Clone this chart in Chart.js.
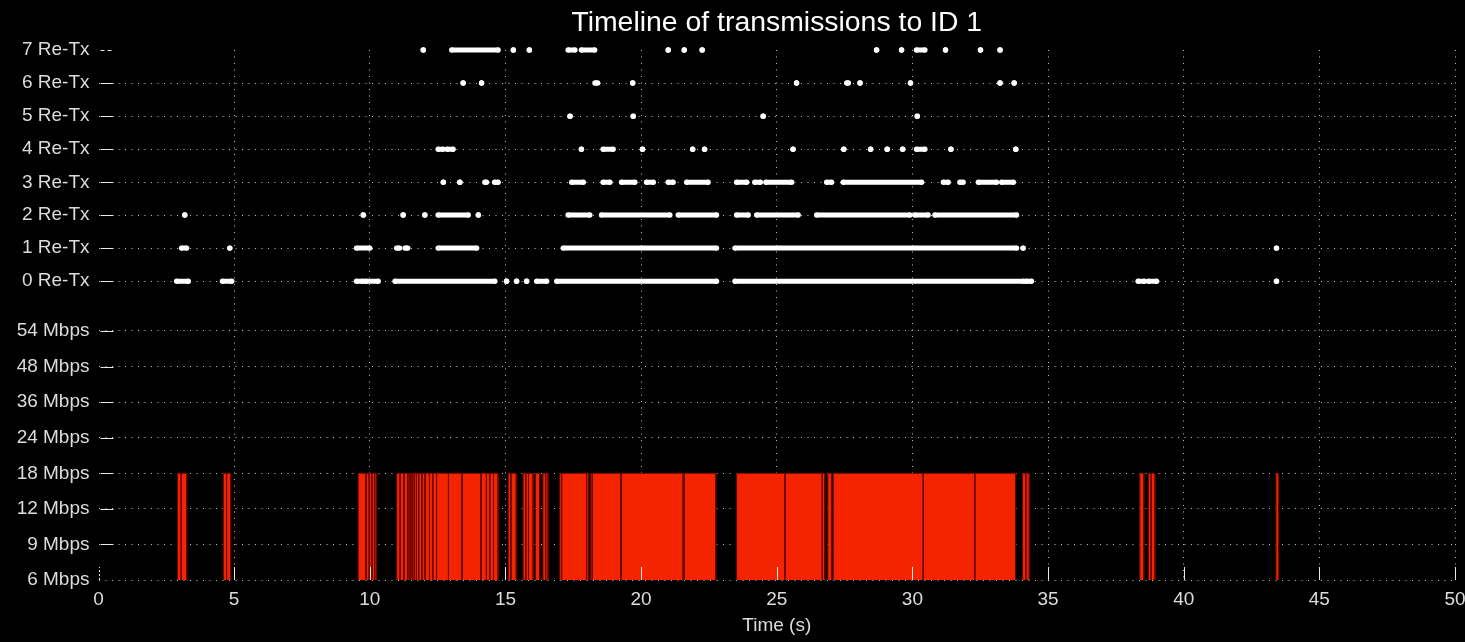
<!DOCTYPE html>
<html>
<head>
<meta charset="utf-8">
<title>Timeline of transmissions to ID 1</title>
<script src="https://cdn.jsdelivr.net/npm/chart.js@4.4.0/dist/chart.umd.min.js"></script>
<style>
  body { margin: 0; background: #000; }
  #wrap { width: 1465px; height: 642px; }
</style>
</head>
<body>
<div id="wrap"><canvas id="timeline" width="1465" height="642"></canvas></div>
<script>
// Axis ticks
const timeTicks = [0, 5, 10, 15, 20, 25, 30, 35, 40, 45, 50];
const rateLabels = ["6 Mbps", "9 Mbps", "12 Mbps", "18 Mbps", "24 Mbps", "36 Mbps", "48 Mbps", "54 Mbps"];
const rateLevels = [0, 1, 2, 3, 4, 5, 6, 7];
const retxLabels = ["0 Re-Tx", "1 Re-Tx", "2 Re-Tx", "3 Re-Tx", "4 Re-Tx", "5 Re-Tx", "6 Re-Tx", "7 Re-Tx"];
const retxLevels = [8.4, 9.33, 10.26, 11.18, 12.11, 13.04, 13.97, 14.9];

// Transmissions at 18 Mbps, [start, end] in seconds
const rate18Runs = [
  [2.91, 3.05], [3.05, 3.25],
  [4.60, 4.72], [4.72, 4.87],
  [9.57, 9.85], [9.88, 9.98], [9.98, 10.08], [10.08, 10.18], [10.18, 10.25],
  [10.99, 11.12], [11.12, 11.26], [11.26, 11.4], [11.4, 11.48], [11.48, 11.56], [11.56, 11.64],
  [11.64, 11.72], [11.72, 11.8], [11.8, 11.92], [11.92, 12.04], [12.04, 12.2], [12.2, 12.32],
  [12.32, 12.46], [12.46, 12.9], [12.9, 13.4], [13.4, 14.1],
  [14.1, 14.3], [14.3, 14.42], [14.42, 14.56], [14.56, 14.73],
  [15.1, 15.2], [15.2, 15.4], [15.65, 15.75], [15.75, 15.85],
  [15.85, 16.02], [16.1, 16.26], [16.38, 16.48], [16.48, 16.57],
  [17.0, 17.07], [17.07, 17.99], [17.99, 18.06], [18.13, 18.2], [18.2, 19.25], [19.28, 21.55], [21.6, 22.75],
  [23.52, 25.3], [25.3, 26.68], [26.68, 26.77], [26.88, 27.02], [27.08, 30.4], [30.4, 32.3], [32.3, 33.8],
  [34.06, 34.18], [34.18, 34.31],
  [38.38, 38.53], [38.7, 38.8], [38.8, 38.94],
  [43.4, 43.5]
];

// Transmissions by number of retries, [start, end] in seconds
const retx0 = [[2.88, 3.31], [4.57, 4.91], [9.51, 9.75], [9.85, 10.31], [10.93, 14.61], [15.04, 15.04],
  [15.41, 15.41], [15.78, 15.78], [16.15, 16.52], [16.89, 22.78], [23.46, 34.1], [34.2, 34.39],
  [38.32, 38.55], [38.7, 39.0], [43.42, 43.42]];
const retx1 = [[3.06, 3.25], [4.84, 4.84], [9.51, 10.0], [10.99, 11.1], [11.3, 11.4], [12.52, 13.94],
  [17.13, 22.78], [23.46, 33.84], [34.08, 34.08], [43.42, 43.42]];
const retx2 = [[3.18, 3.18], [9.76, 9.76], [11.23, 11.23], [12.03, 12.03], [12.52, 13.63], [14.0, 14.0],
  [17.31, 18.11], [18.54, 21.06], [21.37, 22.78], [23.52, 23.95], [24.26, 25.79], [26.47, 29.91],
  [30.09, 30.58], [30.83, 33.84]];
const retx3 = [[12.71, 12.71], [13.32, 13.32], [14.24, 14.3], [14.6, 14.73], [17.44, 17.87], [18.6, 18.85],
  [19.28, 19.77], [20.2, 20.45], [21.0, 21.18], [21.68, 22.47], [23.52, 23.89], [24.19, 24.4],
  [24.6, 25.55], [26.84, 27.02], [27.45, 30.34], [31.14, 31.32], [31.75, 31.87], [32.43, 33.1], [33.29, 33.72]];
const retx4 = [[12.52, 12.7], [12.85, 13.07], [17.8, 17.8], [18.6, 18.97], [20.05, 20.05], [21.9, 21.9],
  [22.34, 22.34], [25.6, 25.6], [27.47, 27.47], [28.46, 28.46], [29.07, 29.07], [29.64, 29.64],
  [30.15, 30.46], [31.42, 31.42], [33.81, 33.81]];
const retx5 = [[17.38, 17.38], [19.71, 19.71], [24.5, 24.5], [30.18, 30.18]];
const retx6 = [[13.44, 13.44], [14.12, 14.12], [18.3, 18.4], [19.69, 19.69], [25.73, 25.73], [27.58, 27.64],
  [28.07, 28.07], [29.93, 29.93], [33.23, 33.23], [33.75, 33.75]];
const retx7 = [[11.97, 11.97], [13.02, 14.73], [15.29, 15.29], [15.88, 15.88], [17.31, 17.56], [17.8, 18.29],
  [21.0, 21.0], [21.59, 21.59], [22.25, 22.25], [28.68, 28.68], [29.6, 29.6], [30.15, 30.46],
  [31.22, 31.22], [32.51, 32.51], [33.23, 33.23]];

const retxRuns = [retx0, retx1, retx2, retx3, retx4, retx5, retx6, retx7];

const yTickValues = [...rateLevels, ...retxLevels];
const yTickLabels = [...rateLabels, ...retxLabels];

const labelColor = "#dcdcdc";
const gridColor = "rgba(215,215,215,0.9)";
const fontFamily = "'Liberation Sans', Arial, sans-serif";

// rectangles from the 6 Mbps floor up to the rate level
function runsToBars(runs, top) {
  const pts = [];
  runs.forEach(([s, e]) => {
    pts.push({ x: s, y: rateLevels[0] }, { x: s, y: top }, { x: e, y: top }, { x: e, y: rateLevels[0] }, { x: e, y: null });
  });
  return pts;
}

function runsToLine(runs, level) {
  const pts = [];
  runs.forEach(([s, e]) => {
    pts.push({ x: s, y: level }, { x: e, y: level }, { x: e, y: null });
  });
  return pts;
}

const retxPoints = [];
retxRuns.forEach((runs, i) => retxPoints.push(...runsToLine(runs, retxLevels[i])));

// tick marks point into the plot
const inwardTicks = {
  id: "inwardTicks",
  afterDraw(chart) {
    const { ctx, chartArea, scales } = chart;
    ctx.save();
    ctx.strokeStyle = "#e8e8e8";
    ctx.lineWidth = 1;
    yTickValues.forEach((v, i) => {
      if (i === 0) return;
      const py = Math.round(scales.y.getPixelForValue(v)) + 0.5;
      ctx.setLineDash(i === yTickValues.length - 1 ? [4, 3] : []);
      ctx.beginPath();
      ctx.moveTo(chartArea.left + 2, py);
      ctx.lineTo(chartArea.left + 15, py);
      ctx.stroke();
    });
    timeTicks.forEach((t, i) => {
      const px = Math.round(scales.x.getPixelForValue(t)) + 0.5;
      ctx.setLineDash(i === 0 ? [2, 2] : []);
      ctx.beginPath();
      ctx.moveTo(px, chartArea.bottom);
      ctx.lineTo(px, chartArea.bottom - 13);
      ctx.stroke();
    });
    ctx.restore();
  }
};

new Chart(document.getElementById("timeline"), {
  type: "line",
  data: {
    datasets: [{
      label: "18 Mbps",
      data: runsToBars(rate18Runs, rateLevels[rateLabels.indexOf("18 Mbps")]),
      borderColor: "#6a0900",
      borderWidth: 1,
      backgroundColor: "#f42400",
      fill: "start",
      pointRadius: 0,
      spanGaps: false
    }, {
      label: "Re-Tx",
      data: retxPoints,
      borderColor: "#ffffff",
      borderWidth: 5,
      backgroundColor: "#ffffff",
      pointRadius: 2.7,
      pointBorderWidth: 0,
      pointBackgroundColor: "#ffffff",
      fill: false,
      spanGaps: false,
      clip: false
    }]
  },
  options: {
    responsive: false,
    animation: false,
    layout: { padding: { left: 0, right: 10, top: 0, bottom: 0 } },
    plugins: {
      legend: { display: false },
      tooltip: { enabled: false },
      title: {
        display: true,
        fullSize: false,
        text: "Timeline of transmissions to ID 1",
        color: "#ffffff",
        font: { family: fontFamily, size: 28.4, weight: "normal" },
        padding: { top: 6, bottom: 9.9 }
      }
    },
    scales: {
      x: {
        type: "linear",
        min: 0,
        max: 50,
        afterBuildTicks: (scale) => { scale.ticks = timeTicks.map(v => ({ value: v })); },
        afterFit: (scale) => { scale.height = 62; scale.paddingLeft = 0; scale.paddingRight = 0; },
        ticks: {
          color: labelColor,
          font: { family: fontFamily, size: 19 },
          padding: 8,
          maxRotation: 0,
          autoSkip: false
        },
        grid: {
          drawTicks: false,
          lineWidth: 1,
          color: (c) => (c.tick && c.tick.value === 0 ? "transparent" : gridColor)
        },
        border: { display: false, dash: [1, 5.5] },
        title: {
          display: true,
          text: "Time (s)",
          color: labelColor,
          font: { family: fontFamily, size: 19 },
          padding: { top: 4.6, bottom: 4.6 }
        }
      },
      y: {
        type: "linear",
        min: 0,
        max: retxLevels[retxLevels.length - 1],
        afterBuildTicks: (scale) => { scale.ticks = yTickValues.map(v => ({ value: v })); },
        afterFit: (scale) => { scale.width = 98.5; },
        ticks: {
          color: labelColor,
          font: { family: fontFamily, size: 19 },
          padding: 9,
          autoSkip: false,
          callback: (v, i) => yTickLabels[i]
        },
        grid: {
          drawTicks: false,
          lineWidth: 1,
          color: (c) => (c.tick && c.tick.value === retxLevels[retxLevels.length - 1] ? "transparent" : gridColor)
        },
        border: { display: false, dash: [1, 5.5] }
      }
    }
  },
  plugins: [inwardTicks]
});
</script>
</body>
</html>
